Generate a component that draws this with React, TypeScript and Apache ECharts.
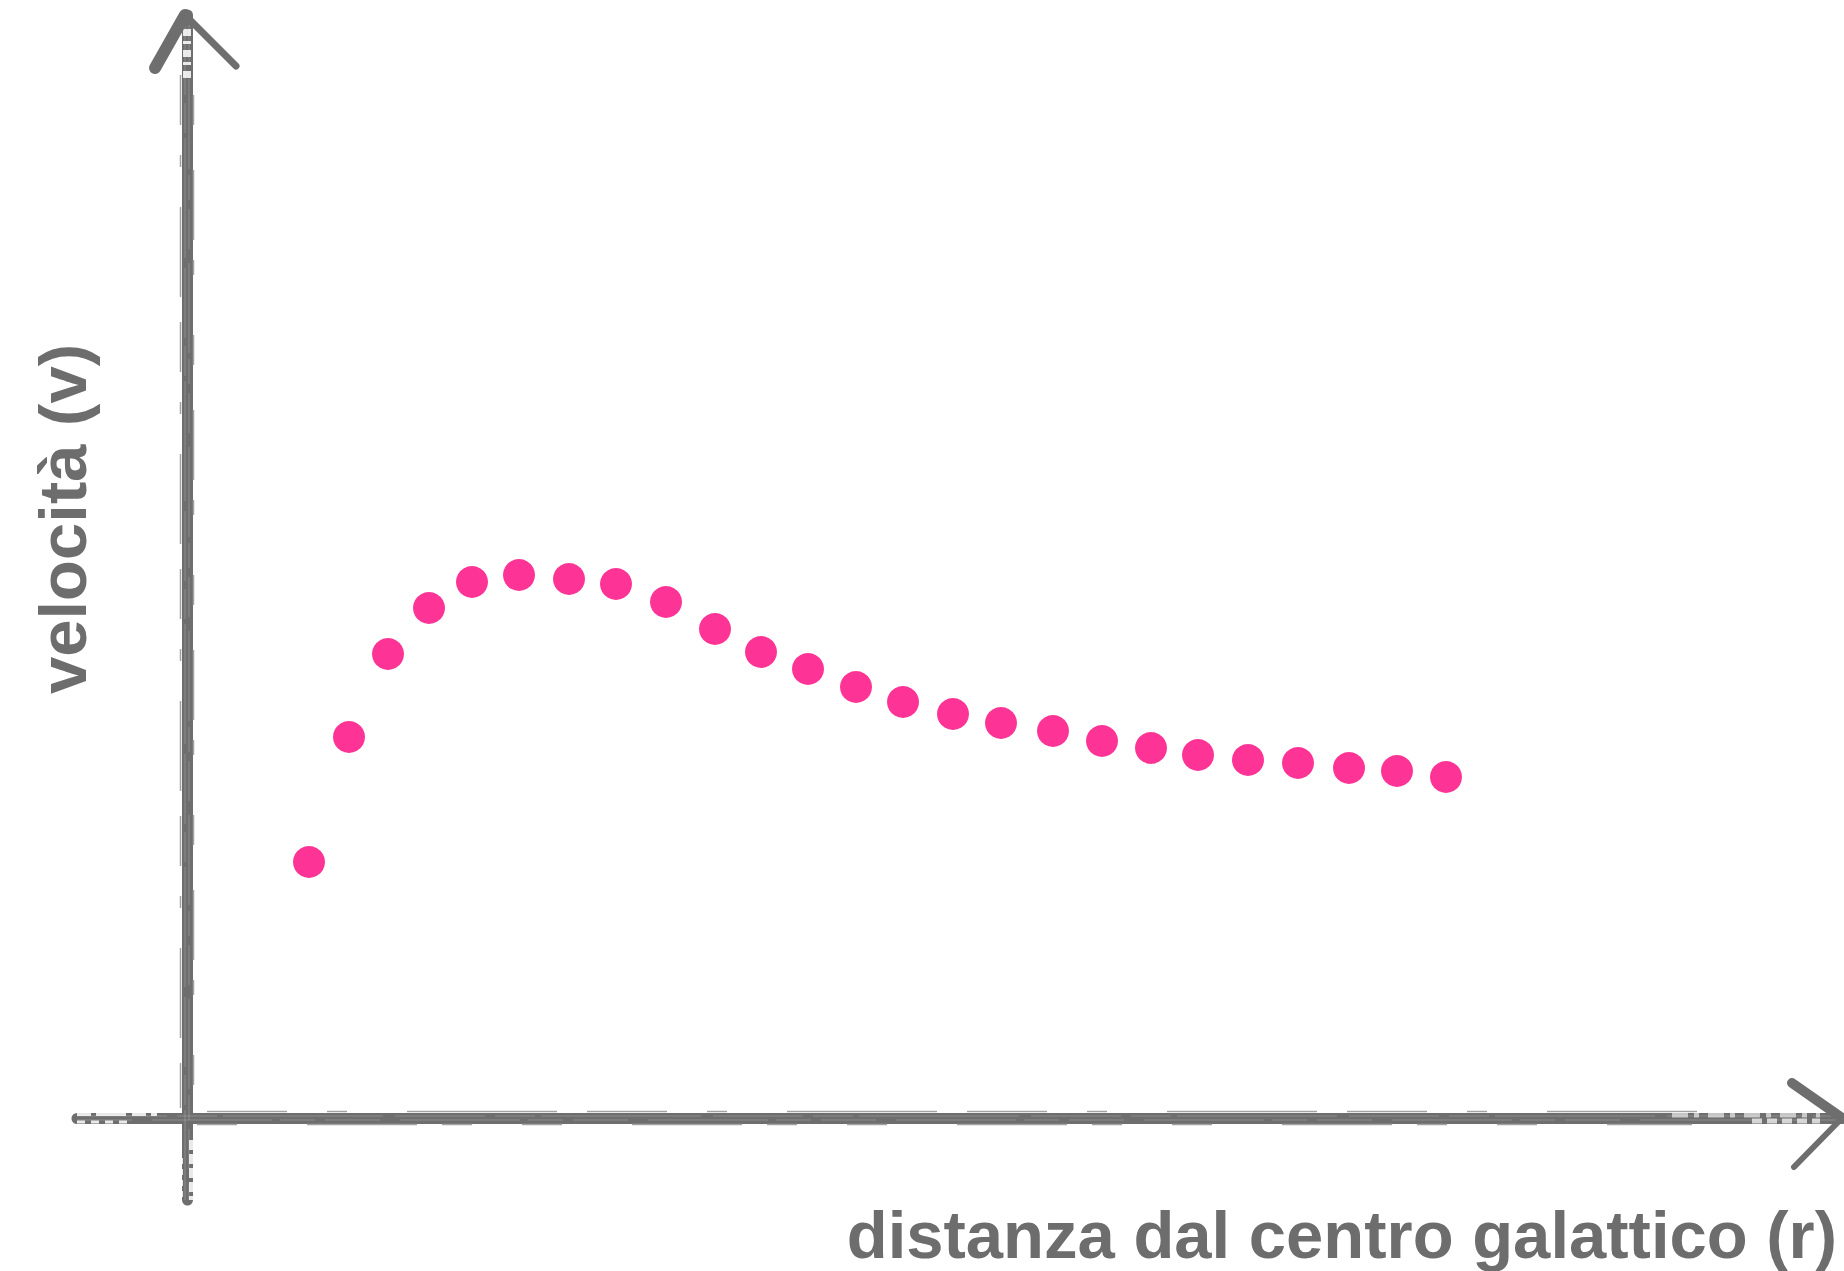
import React, { useEffect, useRef } from "react";
import * as echarts from "echarts";

// distance from galactic centre (arbitrary units, 0 = vertical axis)
const radius = [
  2.44, 3.24, 4.02, 4.84, 5.7, 6.64, 7.64, 8.58, 9.58, 10.56, 11.48, 12.42, 13.38,
  14.32, 15.32, 16.28, 17.32, 18.3, 19.28, 20.22, 21.22, 22.22, 23.24, 24.2, 25.18,
];
// rotation velocity (arbitrary units, 0 = horizontal axis)
const velocity = [
  5.12, 7.62, 9.28, 10.2, 10.72, 10.86, 10.78, 10.68, 10.32, 9.78, 9.32, 8.98, 8.62,
  8.32, 8.08, 7.9, 7.74, 7.54, 7.4, 7.26, 7.16, 7.1, 7.0, 6.94, 6.82,
];

const xLabel = "distanza dal centro galattico (r)";
const yLabel = "velocità (v)";

const xRange = [-2.2, 33.1];
const yRange = [-1.64, 22.06];

const AXIS = "#6e6e6e";
const EDGE = "#a2a2a2";
const TEXT = "#6d6d6d";
const PINK = "#fd3495";
const FONT = 'bold 67px "Liberation Sans", Arial, Helvetica, sans-serif';

export default function App() {
  const ref = useRef<HTMLDivElement>(null);

  useEffect(() => {
    const chart = echarts.init(ref.current!, null, { renderer: "svg" });
    const hiddenParts = {
      axisTick: { show: false },
      axisLabel: { show: false },
      splitLine: { show: false },
    };
    chart.setOption({
      animation: false,
      backgroundColor: "#ffffff",
      grid: { left: 77, right: 2, top: 15, bottom: 71 },
      xAxis: {
        type: "value",
        min: xRange[0],
        max: xRange[1],
        axisLine: { show: true, onZero: true, lineStyle: { color: AXIS, width: 11 } },
        ...hiddenParts,
      },
      yAxis: {
        type: "value",
        min: yRange[0],
        max: yRange[1],
        axisLine: { show: true, onZero: true, lineStyle: { color: AXIS, width: 11 } },
        ...hiddenParts,
      },
      series: [
        {
          type: "scatter",
          data: radius.map((r, i) => [r, velocity[i]]),
          symbol: "circle",
          symbolSize: 32,
          itemStyle: { color: PINK, opacity: 1 },
          z: 5,
        },
      ],
    });

    const o = chart.convertToPixel({ gridIndex: 0 }, [0, 0]) as number[];
    const top = chart.convertToPixel({ gridIndex: 0 }, [0, yRange[1]]) as number[];
    const bottom = chart.convertToPixel({ gridIndex: 0 }, [0, yRange[0]]) as number[];
    const left = chart.convertToPixel({ gridIndex: 0 }, [xRange[0], 0]) as number[];
    const right = chart.convertToPixel({ gridIndex: 0 }, [xRange[1], 0]) as number[];

    const streak = (x1: number, y1: number, x2: number, y2: number, dash: number[], w: number, c: string) => ({
      type: "line",
      silent: true,
      z: 1,
      shape: { x1, y1, x2, y2 },
      style: { stroke: c, lineWidth: w, lineDash: dash },
    });
    const stroke = (pts: number[][], w: number, c = AXIS) => ({
      type: "polyline",
      silent: true,
      z: 2,
      shape: { points: pts },
      style: { stroke: c, lineWidth: w, lineCap: "round", lineJoin: "round", fill: null },
    });

    const tip = [top[0] - 2, top[1]];
    const rtip = [right[0], right[1]];
    const W = "rgba(255,255,255,0.22)";
    const W2 = "rgba(255,255,255,0.85)";

    chart.setOption({
      graphic: [
        // ragged brush edges on the vertical axis
        streak(o[0] - 6.5, top[1] + 60, o[0] - 6.5, o[1] - 10, [50, 30, 12, 40, 90, 25], 1.5, EDGE),
        streak(o[0] + 6.5, top[1] + 80, o[0] + 6.5, o[1] - 10, [30, 45, 70, 20, 15, 60], 1.5, EDGE),
        streak(o[0] - 2, top[1] + 10, o[0] - 2, bottom[1], [70, 8, 30, 5, 120, 10], 1, W),
        streak(o[0] + 2, top[1] + 10, o[0] + 2, bottom[1], [40, 14, 90, 6, 25, 9], 1, W),
        // dry-brush start at the top and tapered end at the bottom
        streak(o[0], top[1] + 14, o[0], top[1] + 68, [7, 5, 3, 6], 8, W2),
        streak(o[0] + 4, o[1] + 22, o[0] + 4, bottom[1], [10, 4], 4, W2),
        streak(o[0] - 5, o[1] + 40, o[0] - 5, bottom[1], [6, 5], 2, W2),
        // ragged brush edges on the horizontal axis
        streak(o[0] + 20, o[1] - 6.5, right[0] - 120, o[1] - 6.5, [80, 40, 20, 60, 150, 30], 1.5, EDGE),
        streak(o[0] + 10, o[1] + 6.5, right[0] - 150, o[1] + 6.5, [40, 70, 110, 25, 30, 50], 1.5, EDGE),
        streak(left[0], o[1] - 2, right[0], o[1] - 2, [90, 10, 40, 6, 160, 12], 1, W),
        streak(left[0], o[1] + 2, right[0], o[1] + 2, [55, 20, 120, 8, 35, 10], 1, W),
        // thin dry start at the left and fading end near the arrow
        streak(left[0], o[1] - 4, o[0] - 30, o[1] - 4, [14, 5, 30, 6], 4, W2),
        streak(left[0], o[1] + 4, o[0] - 60, o[1] + 4, [8, 6], 3, W2),
        streak(right[0] - 170, o[1] - 3, right[0] - 22, o[1] - 3, [16, 6, 5, 9], 5, "rgba(255,255,255,0.6)"),
        streak(right[0] - 90, o[1] + 3, right[0] - 22, o[1] + 3, [10, 5], 5, "rgba(255,255,255,0.7)"),
        // arrowhead on top of the vertical axis
        stroke([[tip[0] - 30, tip[1] + 53], [tip[0], tip[1]]], 12),
        stroke([[tip[0], tip[1]], [tip[0] + 51, tip[1] + 51]], 7),
        // arrowhead at the end of the horizontal axis
        stroke([[rtip[0] - 50, rtip[1] - 35], [rtip[0], rtip[1]]], 10),
        stroke([[rtip[0], rtip[1]], [rtip[0] - 48, rtip[1] + 49]], 6),
        // axis titles
        {
          type: "text",
          silent: true,
          x: 62,
          y: 519,
          rotation: Math.PI / 2,
          style: {
            text: yLabel,
            fill: TEXT,
            font: FONT,
            align: "center",
            verticalAlign: "middle",
            textAlign: "center",
            textVerticalAlign: "middle",
          },
        },
        {
          type: "text",
          silent: true,
          x: 1837,
          y: 1234,
          style: {
            text: xLabel,
            fill: TEXT,
            font: FONT,
            align: "right",
            verticalAlign: "middle",
            textAlign: "right",
            textVerticalAlign: "middle",
          },
        },
      ],
    });

    return () => chart.dispose();
  }, []);

  return (
    <div
      ref={ref}
      style={{ position: "fixed", left: 0, top: 0, width: 1844, height: 1271 }}
    />
  );
}
